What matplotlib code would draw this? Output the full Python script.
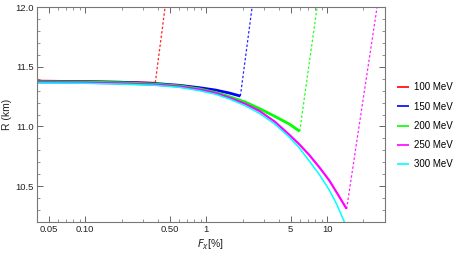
import numpy as np
import matplotlib
matplotlib.use("Agg")
import matplotlib.pyplot as plt
from matplotlib.ticker import FixedLocator, NullFormatter, FixedFormatter

plt.rcParams["font.family"] = ["Liberation Sans", "DejaVu Sans"]

# ---------------------------------------------------------------------------
# data (F in %, R in km)
# ---------------------------------------------------------------------------
LABELS = ["100 MeV", "150 MeV", "200 MeV", "250 MeV", "300 MeV"]
COLORS = ["#FF0000", "#0000FF", "#00FF00", "#FF00FF", "#00FFFF"]

F_RED = [0.04, 0.1, 0.2, 0.38]
R_RED = [11.385, 11.38, 11.375, 11.367]

F_BLUE = [0.04, 0.1, 0.2, 0.38, 0.6, 0.88, 1.2, 1.56, 1.92]
R_BLUE = [11.378, 11.375, 11.37, 11.36, 11.345, 11.325, 11.305, 11.28, 11.255]

F_GREEN = [0.04, 0.1, 0.2, 0.38, 0.6, 0.88, 1.2, 1.56, 2.1, 2.76, 3.7, 4.88, 5.94]
R_GREEN = [11.375, 11.372, 11.366, 11.355, 11.34, 11.315, 11.285, 11.25,
           11.205, 11.15, 11.085, 11.02, 10.96]

F_MAG = [0.04, 0.1, 0.2, 0.38, 0.6, 0.88, 1.2, 1.56, 2.1, 2.76, 3.7, 4.88,
         5.9, 7.14, 8.6, 10.4, 12.3, 14.5]
R_MAG = [11.37, 11.367, 11.36, 11.35, 11.335, 11.31, 11.28, 11.24, 11.19,
         11.13, 11.04, 10.93, 10.85, 10.76, 10.66, 10.55, 10.43, 10.31]

F_CYAN = [0.04, 0.1, 0.2, 0.38, 0.6, 0.88, 1.2, 1.56, 2.1, 2.76, 3.7, 4.88,
          5.9, 7.14, 8.6, 10.4, 12.0, 13.9, 15.0]
R_CYAN = [11.365, 11.362, 11.355, 11.345, 11.328, 11.30, 11.27, 11.23, 11.175,
          11.11, 11.02, 10.91, 10.82, 10.71, 10.60, 10.47, 10.35, 10.2, 10.1]

# dashed branches: (F_start, R_start) -> (F_end, R_end)
DASH_F = [[0.38, 0.458], [1.92, 2.4], [5.94, 8.27], [14.5, 25.9]]
DASH_R = [[11.367, 12.0], [11.255, 12.0], [10.96, 12.0], [10.31, 12.0]]

SOLID = [(F_RED, R_RED), (F_BLUE, R_BLUE), (F_GREEN, R_GREEN),
         (F_MAG, R_MAG), (F_CYAN, R_CYAN)]
WIDTHS = [1.2, 2.0, 2.0, 1.6, 1.1]

XTICKS = [0.05, 0.1, 0.5, 1, 5, 10]
XTICKLABELS = ["0.05", "0.10", "0.50", "1", "5", "10"]

# ---------------------------------------------------------------------------
fig = plt.figure(figsize=(4.57, 2.54), dpi=100)
ax = fig.add_axes([0.081, 0.126, 0.761, 0.846])

for (f, r), c, lw, lab in zip(SOLID, COLORS, WIDTHS, LABELS):
    ax.plot(f, r, color=c, lw=lw, label=lab, solid_capstyle="butt",
            solid_joinstyle="round")
for f, r, c in zip(DASH_F, DASH_R, COLORS):
    ax.plot(f, r, color=c, lw=0.9, ls=(0, (2, 1.6)), alpha=0.85)

ax.set_xscale("log")
ax.set_xlim(0.04, 30)
ax.set_ylim(10.2, 12.0)

ax.xaxis.set_major_locator(FixedLocator(XTICKS))
ax.xaxis.set_major_formatter(FixedFormatter(XTICKLABELS))
minor = [m * 10.0 ** e for e in range(-2, 2) for m in range(1, 10)]
minor = [v for v in minor if v not in XTICKS]
ax.xaxis.set_minor_locator(FixedLocator(minor))
ax.xaxis.set_minor_formatter(NullFormatter())

ax.set_yticks([10.5, 11.0, 11.5, 12.0])
ax.set_yticklabels(["10.5", "11.0", "11.5", "12.0"])
ax.yaxis.set_minor_locator(FixedLocator(np.arange(10.2, 12.01, 0.1)))

for s in ax.spines.values():
    s.set_color("#777777")
    s.set_linewidth(0.8)
ax.tick_params(which="both", direction="in", top=True, right=True,
               colors="#666666", labelcolor="#222222", labelsize=6.8, pad=2.5)
ax.tick_params(which="major", length=4, width=0.7)
ax.tick_params(which="minor", length=2, width=0.5)

ax.set_ylabel("R (km)", fontsize=7.5, labelpad=2, color="#222222")
ax.set_xlabel(r"$F_\chi$[%]", fontsize=7.5, labelpad=2, color="#222222")

leg = ax.legend(loc="center left", bbox_to_anchor=(1.01, 0.447), frameon=False,
                fontsize=7, handlelength=1.2, handletextpad=0.5, labelspacing=0.95)
for h in leg.get_lines():
    h.set_linewidth(1.2)

fig.savefig("out.png", dpi=100)
